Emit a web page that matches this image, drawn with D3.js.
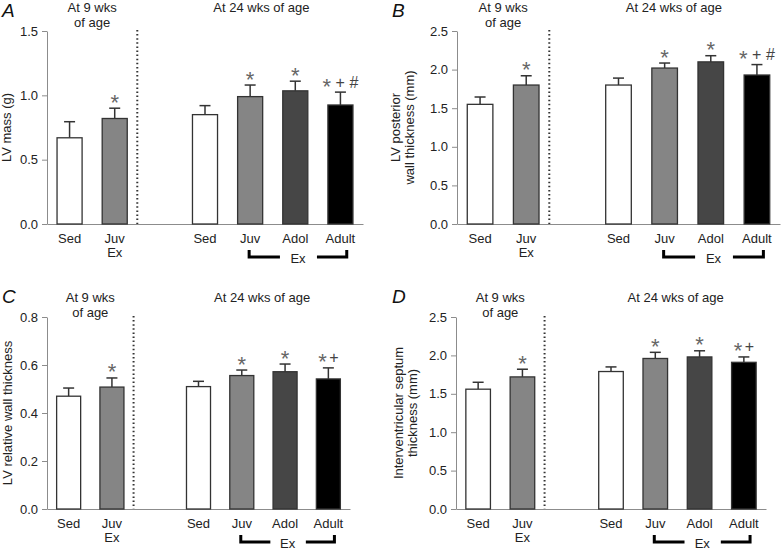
<!DOCTYPE html>
<html>
<head>
<meta charset="utf-8">
<script src="https://cdn.jsdelivr.net/npm/d3@7"></script>
<style>
  body { margin: 0; background: #fff; }
  text { font-family: "Liberation Sans", Arial, sans-serif; }
</style>
</head>
<body>
<svg id="chart" width="783" height="551"></svg>
<script>
  // slots along the x axis (one empty slot between the two age groups)
  const slots = ['sed9', 'juv9', 'gap', 'sed24', 'juv24', 'adol24', 'adult24'];
  const barKeys = ['sed9', 'juv9', 'sed24', 'juv24', 'adol24', 'adult24'];
  const barLabels = [['Sed'], ['Juv', 'Ex'], ['Sed'], ['Juv'], ['Adol'], ['Adult']];
  const barFills = ['#ffffff', '#858585', '#ffffff', '#858585', '#464646', '#000000'];

  const panelIds = ['A', 'B', 'C', 'D'];
  const yLabels = [
    ['LV mass (g)'],
    ['LV posterior', 'wall thickness (mm)'],
    ['LV relative wall thickness'],
    ['Interventricular septum', 'thickness (mm)']
  ];
  const yMax = [1.5, 2.5, 0.8, 2.5];
  const yTicks = [
    [0, 0.5, 1.0, 1.5],
    [0, 0.5, 1.0, 1.5, 2.0, 2.5],
    [0, 0.2, 0.4, 0.6, 0.8],
    [0, 0.5, 1.0, 1.5, 2.0, 2.5]
  ];

  // means and SE, order follows barKeys
  const lvMass = [0.67, 0.82, 0.85, 0.99, 1.035, 0.925];
  const lvMassErr = [0.125, 0.08, 0.07, 0.09, 0.075, 0.10];
  const postWall = [1.55, 1.80, 1.80, 2.02, 2.10, 1.93];
  const postWallErr = [0.095, 0.12, 0.09, 0.065, 0.08, 0.135];
  const relWall = [0.47, 0.508, 0.51, 0.556, 0.572, 0.542];
  const relWallErr = [0.034, 0.038, 0.022, 0.023, 0.032, 0.046];
  const septum = [1.56, 1.72, 1.79, 1.96, 1.98, 1.91];
  const septumErr = [0.09, 0.10, 0.06, 0.08, 0.08, 0.07];

  const marksAB = ['', '*', '', '*', '*', '* + #'];
  const marksCD = ['', '*', '', '*', '*', '*+'];

  const values = [lvMass, postWall, relWall, septum];
  const errors = [lvMassErr, postWallErr, relWallErr, septumErr];
  const marks = [marksAB, marksAB, marksCD, marksCD];

  const titleLeft = ['At 9 wks', 'of age'];
  const titleRight = 'At 24 wks of age';

  // layout of each panel
  const layout = [
    { ox: 0,   left: 47,  right: 363, top: 31,  bottom: 224, letterY: 17,  titleY: 12,  shift: 1.25, ylabX: [-36] },
    { ox: 390, left: 457, right: 780, top: 31,  bottom: 224, letterY: 17,  titleY: 12,  shift: 1.2,  ylabX: [-57, -43] },
    { ox: 0,   left: 47,  right: 350, top: 317, bottom: 509, letterY: 303, titleY: 302, shift: 1.47, ylabX: [-35] },
    { ox: 390, left: 456, right: 766, top: 317, bottom: 509, letterY: 303, titleY: 302, shift: 1.46, ylabX: [-53, -39] }
  ];

  const svg = d3.select('#chart');
  const axisColor = '#8c8c8c';

  panelIds.forEach((id, i) => {
    const L = layout[i];
    const g = svg.append('g');

    const x = d3.scaleBand()
      .domain(slots)
      .range([L.left, L.right])
      .paddingInner(0.445)
      .paddingOuter(0.2225);
    const y = d3.scaleLinear().domain([0, yMax[i]]).range([L.bottom, L.top]);
    const cx = k => x(k) + x.bandwidth() / 2;
    const step = x.step();

    // y axis
    const yAxis = g.append('g')
      .attr('transform', `translate(${L.left},0)`)
      .call(d3.axisLeft(y).tickValues(yTicks[i]).tickFormat(d3.format('.1f'))
        .tickSize(5).tickSizeOuter(0).tickPadding(4));
    yAxis.selectAll('path, line').attr('stroke', axisColor);
    yAxis.selectAll('text').attr('font-size', 13).attr('fill', '#222')
      .style('font-family', '"Liberation Sans", Arial, sans-serif');

    // x axis (baseline only)
    const xAxis = g.append('g')
      .attr('transform', `translate(0,${L.bottom})`)
      .call(d3.axisBottom(x).tickValues([]).tickSizeOuter(0));
    xAxis.select('.domain').attr('stroke', axisColor);

    // dotted separator
    const sepX = cx('juv9') + step / 2;
    g.append('line')
      .attr('x1', sepX).attr('x2', sepX)
      .attr('y1', L.top - 1).attr('y2', L.bottom)
      .attr('stroke', '#333')
      .attr('stroke-width', 2)
      .attr('stroke-dasharray', '1.5,2.6');

    const rows = barKeys.map((k, j) => ({
      key: k, v: values[i][j], e: errors[i][j], fill: barFills[j], mark: marks[i][j], label: barLabels[j]
    }));

    // error bars
    const err = g.append('g').attr('stroke', '#333').attr('stroke-width', 1.5);
    err.selectAll('line.stem')
      .data(rows)
      .join('line')
      .attr('class', 'stem')
      .attr('x1', d => cx(d.key)).attr('x2', d => cx(d.key))
      .attr('y1', d => y(d.v)).attr('y2', d => y(d.v + d.e));
    err.selectAll('line.cap')
      .data(rows)
      .join('line')
      .attr('class', 'cap')
      .attr('x1', d => cx(d.key) - 5.5).attr('x2', d => cx(d.key) + 5.5)
      .attr('y1', d => y(d.v + d.e)).attr('y2', d => y(d.v + d.e));

    // bars
    g.append('g')
      .selectAll('rect')
      .data(rows)
      .join('rect')
      .attr('x', d => x(d.key))
      .attr('width', x.bandwidth())
      .attr('y', d => y(d.v))
      .attr('height', d => y(0) - y(d.v))
      .attr('fill', d => d.fill)
      .attr('stroke', '#333')
      .attr('stroke-width', 1.3);

    // significance marks
    g.append('g')
      .selectAll('text')
      .data(rows.filter(d => d.mark))
      .join('text')
      .attr('x', d => cx(d.key))
      .attr('y', d => y(d.v + d.e) - 4.5)
      .attr('text-anchor', 'middle')
      .attr('fill', '#555')
      .each(function(d) {
        const t = d3.select(this);
        let offset = 0;
        let prev = '';
        d.mark.split('').forEach(ch => {
          const target = ch === '*' ? 6 : 0;
          const ts = t.append('tspan')
            .attr('dy', target - offset)
            .attr('font-size', ch === '*' ? 22 : 16)
            .attr('fill', ch === '*' ? '#666' : '#444')
            .text(ch);
          if (ch !== '*' && ch !== ' ' && prev === '*') ts.attr('dx', 2.5);
          offset = target;
          prev = ch;
        });
      });

    // x labels
    g.append('g')
      .selectAll('text')
      .data(rows)
      .join('text')
      .attr('x', d => cx(d.key))
      .attr('y', L.bottom + 19)
      .attr('text-anchor', 'middle')
      .attr('font-size', 13)
      .attr('fill', '#222')
      .each(function(d) {
        d3.select(this).selectAll('tspan')
          .data(d.label)
          .join('tspan')
          .attr('x', cx(d.key))
          .attr('dy', (s, n) => n === 0 ? 0 : 14)
          .text(s => s);
      });

    // Ex bracket under the exercised groups at 24 wks
    const bY = L.bottom + 33;
    g.append('path')
      .attr('d', `M${cx('juv24') - 1},${bY - 7}V${bY}H${cx('juv24') + 0.66 * step}`)
      .attr('fill', 'none').attr('stroke', '#000').attr('stroke-width', 3);
    g.append('path')
      .attr('d', `M${cx('adult24') - 0.52 * step},${bY}H${cx('adult24') + 0.14 * step}V${bY - 7}`)
      .attr('fill', 'none').attr('stroke', '#000').attr('stroke-width', 3);
    g.append('text')
      .attr('x', cx('adol24') + 0.06 * step)
      .attr('y', bY + 6)
      .attr('text-anchor', 'middle')
      .attr('font-size', 13)
      .attr('fill', '#222')
      .text('Ex');

    // group titles
    const leftCx = (cx('sed9') + cx('juv9')) / 2;
    g.append('text')
      .attr('x', leftCx).attr('y', L.titleY)
      .attr('text-anchor', 'middle').attr('font-size', 13).attr('fill', '#222')
      .selectAll('tspan')
      .data(titleLeft)
      .join('tspan')
      .attr('x', leftCx)
      .attr('dy', (s, n) => n === 0 ? 0 : 14.5)
      .text(s => s);
    g.append('text')
      .attr('x', cx('sed24') + L.shift * step).attr('y', L.titleY)
      .attr('text-anchor', 'middle').attr('font-size', 13).attr('fill', '#222')
      .text(titleRight);

    // y label
    const midY = (L.top + L.bottom) / 2;
    yLabels[i].forEach((s, n) => {
      g.append('text')
        .attr('transform', `translate(${L.left + L.ylabX[n]},${midY}) rotate(-90)`)
        .attr('text-anchor', 'middle')
        .attr('font-size', 13)
        .attr('fill', '#222')
        .text(s);
    });

    // panel letter
    g.append('text')
      .attr('x', L.ox + 2).attr('y', L.letterY)
      .attr('font-size', 19)
      .attr('font-style', 'italic')
      .attr('fill', '#111')
      .text(id);
  });
</script>
</body>
</html>
